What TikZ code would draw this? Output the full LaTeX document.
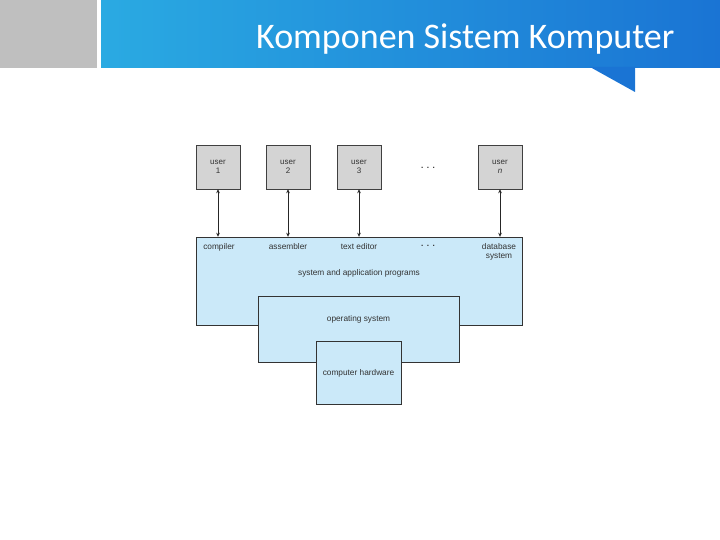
\documentclass[tikz,border=0pt]{standalone}
\usepackage{fontspec}
\setmainfont{Liberation Sans}
\newfontfamily\titlefont{Carlito}
\usetikzlibrary{positioning,arrows.meta}

\definecolor{bandleft}{HTML}{2AAAE2}
\definecolor{bandright}{HTML}{1A74D4}
\definecolor{layerblue}{HTML}{CBE9F9}
\definecolor{usergray}{HTML}{D4D4D4}

\newcommand{\spdots}{\textbf{.}\hspace{3.5pt}\textbf{.}\hspace{3.5pt}\textbf{.}}

\begin{document}
\begin{tikzpicture}[x=1pt, y=-1pt,
  userbox/.style={rectangle, draw=black!75, fill=usergray, minimum width=44pt, minimum height=44pt, inner sep=0pt, align=center, text=black!80, font=\fontsize{8}{9}\selectfont},
  layer/.style={rectangle, draw=black!80, fill=layerblue, inner sep=0pt},
  lbl/.style={align=center, text=black!80, font=\fontsize{8.3}{9}\selectfont},
  arrow/.style={{Stealth[length=4pt,width=3.6pt]}-{Stealth[length=4pt,width=3.6pt]}, line width=0.8pt, black!85}
]
\useasboundingbox (0,0) rectangle (720,540);

% header band
\fill[black!25] (0,0) rectangle (97,68);
\shade[left color=bandleft, right color=bandright] (101,0) rectangle (720,68);
\fill[bandright] (590,67) -- (635,67) -- (635,92) -- cycle;
\node[anchor=east, text=white, font=\titlefont\fontsize{36}{40}\selectfont] (title) at (678,39) {Komponen Sistem Komputer};

% layers
\node[layer, minimum width=326pt, minimum height=88pt] (apps) at (359,281) {};
\node[layer, minimum width=201pt, minimum height=66pt] (os) at (358.5,329) {};
\node[layer, minimum width=85pt, minimum height=63pt] (hw) at (358.5,372.5) {};

\node[lbl] (compiler) at (219,247) {compiler};
\node[lbl] (assembler) at (288,247) {assembler};
\node[lbl] (editor) at (359,247) {text editor};
\node[lbl] (pdots) at (428,246) {\spdots};
\node[lbl] (dbsys) at (499,252) {database\\system};
\node[lbl] (progs) at (359,273) {system and application programs};
\node[lbl] (oslbl) at (358.5,319) {operating system};
\node[lbl] (hwlbl) at (358.5,373) {computer hardware};

% users
\node[userbox] (u1) at (218,167) {user\\1};
\node[userbox] (u2) at (288,167) {user\\2};
\node[userbox] (u3) at (359,167) {user\\3};
\node[lbl] (udots) at (428,168) {\spdots};
\node[userbox] (un) at (500,167) {user\\\textit{n}};

\draw[arrow] (u1.south) -- (u1.south |- apps.north);
\draw[arrow] (u2.south) -- (u2.south |- apps.north);
\draw[arrow] (u3.south) -- (u3.south |- apps.north);
\draw[arrow] (un.south) -- (un.south |- apps.north);
\end{tikzpicture}
\end{document}
